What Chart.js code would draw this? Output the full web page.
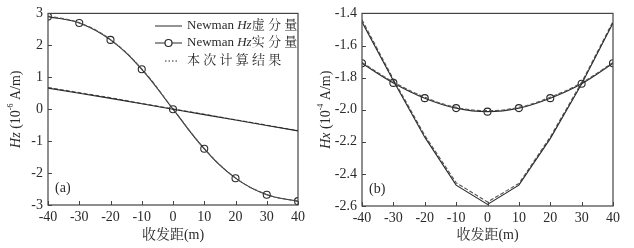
<!DOCTYPE html>
<html>
<head>
<meta charset="utf-8">
<script src="https://cdn.jsdelivr.net/npm/chart.js@4"></script>
<style>
  html, body { margin: 0; padding: 0; background: #fff; }
  .panel { position: absolute; top: 0; height: 248px; }
  #panelA { left: 0; width: 317px; }
  #panelB { left: 314px; width: 320px; }
</style>
</head>
<body>
<div class="panel" id="panelA"><canvas id="hzChart"></canvas></div>
<div class="panel" id="panelB"><canvas id="hxChart"></canvas></div>
<script>
// offsets (m)
const offsets = [-40, -30, -20, -10, 0, 10, 20, 30, 40];

// (a) Hz
const hzImag     = [0.66, 0.50, 0.34, 0.17, 0.00, -0.17, -0.34, -0.51, -0.68];
const hzImagCalc = [0.68, 0.52, 0.36, 0.18, 0.01, -0.16, -0.33, -0.50, -0.67];
const hzReal     = [2.90, 2.70, 2.17, 1.25, 0.00, -1.24, -2.16, -2.68, -2.88];
const hzRealCalc = [2.92, 2.71, 2.18, 1.26, 0.01, -1.23, -2.15, -2.67, -2.89];

// (b) Hx
const hxImag     = [-1.454, -1.82, -2.171, -2.47, -2.59, -2.47, -2.18, -1.84, -1.46];
const hxImagCalc = [-1.44, -1.81, -2.16, -2.455, -2.575, -2.46, -2.17, -1.83, -1.45];
const hxReal     = [-1.711, -1.833, -1.928, -1.99, -2.012, -1.99, -1.928, -1.838, -1.711];
const hxRealCalc = [-1.706, -1.827, -1.922, -1.985, -2.006, -1.985, -1.922, -1.832, -1.706];

const serif = '"Liberation Serif", "Times New Roman", "Noto Serif CJK SC", "Noto Sans CJK SC", serif';
const ink = '#2a2a2a';

function pts(ys) {
    return ys.map((y, i) => ({ x: offsets[i], y: y }));
}

// frame + inward ticks
const framePlugin = {
    id: 'frame',
    afterDraw(chart) {
        const { ctx, chartArea: a, scales } = chart;
        ctx.save();
        ctx.strokeStyle = '#444';
        ctx.lineWidth = 1.2;
        ctx.strokeRect(a.left, a.top, a.right - a.left, a.bottom - a.top);
        ctx.lineWidth = 1;
        ctx.beginPath();
        scales.x.ticks.forEach(t => {
            const px = Math.round(scales.x.getPixelForValue(t.value)) + 0.5;
            ctx.moveTo(px, a.bottom);
            ctx.lineTo(px, a.bottom - 4);
        });
        scales.y.ticks.forEach(t => {
            const py = Math.round(scales.y.getPixelForValue(t.value)) + 0.5;
            ctx.moveTo(a.left, py);
            ctx.lineTo(a.left + 4, py);
        });
        ctx.stroke();
        ctx.restore();
    }
};

// draws a run of [text, font, dy] pieces starting at x
function drawRun(ctx, parts, x, y) {
    parts.forEach(p => {
        ctx.font = p[1];
        ctx.fillText(p[0], x, y + (p[2] || 0));
        x += ctx.measureText(p[0]).width;
    });
    return x;
}
function runWidth(ctx, parts) {
    let w = 0;
    parts.forEach(p => { ctx.font = p[1]; w += ctx.measureText(p[0]).width; });
    return w;
}

function textPlugin(opts) {
    return {
        id: 'texts',
        afterDraw(chart) {
            const { ctx, chartArea: a } = chart;
            ctx.save();
            ctx.fillStyle = ink;
            ctx.textBaseline = 'middle';
            ctx.textAlign = 'left';

            // y title, rotated
            const parts = [
                [opts.sym, 'italic 14px ' + serif],
                [' (10', '14px ' + serif],
                [opts.exp, '8px ' + serif, -5],
                [' A/m)', '14px ' + serif]
            ];
            const w = runWidth(ctx, parts);
            ctx.translate(opts.titleX, (a.top + a.bottom) / 2);
            ctx.rotate(-Math.PI / 2);
            drawRun(ctx, parts, -w / 2, 0);
            ctx.setTransform(1, 0, 0, 1, 0, 0);

            // panel tag
            ctx.font = '14px ' + serif;
            ctx.fillText(opts.tag, a.left + 7, a.bottom - 17);

            if (opts.legend) {
                const lx = 155, tx = 187;
                const rows = [26, 43, 61];
                ctx.strokeStyle = ink;
                ctx.lineWidth = 1.2;
                ctx.beginPath();
                ctx.moveTo(lx, rows[0]); ctx.lineTo(lx + 27, rows[0]);
                ctx.moveTo(lx, rows[1]); ctx.lineTo(lx + 27, rows[1]);
                ctx.stroke();
                ctx.beginPath();
                ctx.fillStyle = '#fff';
                ctx.arc(lx + 13.5, rows[1], 3.5, 0, Math.PI * 2);
                ctx.fill();
                ctx.stroke();
                ctx.fillStyle = ink;
                ctx.setLineDash([1.5, 2]);
                ctx.beginPath();
                ctx.moveTo(lx + 10, rows[2]); ctx.lineTo(lx + 23, rows[2]);
                ctx.stroke();
                ctx.setLineDash([]);
                const reg = '13px ' + serif, ita = 'italic 13px ' + serif;
                drawRun(ctx, [['Newman ', reg], ['Hz', ita], ['虚 分 量', reg]], tx, rows[0]);
                drawRun(ctx, [['Newman ', reg], ['Hz', ita], ['实 分 量', reg]], tx, rows[1]);
                drawRun(ctx, [['本 次 计 算 结 果', reg]], tx, rows[2]);
            }
            ctx.restore();
        }
    };
}

function makeOptions(yMin, yMax, yStep, decimals, padRight, xHeight) {
    return {
        responsive: true,
        maintainAspectRatio: false,
        animation: false,
        layout: { padding: { left: 0, right: padRight, top: 12, bottom: 0 } },
        plugins: {
            legend: { display: false },
            tooltip: { enabled: false }
        },
        scales: {
            x: {
                type: 'linear',
                min: -40,
                max: 40,
                grid: { display: false, drawTicks: false },
                border: { display: false },
                ticks: {
                    stepSize: 10,
                    color: ink,
                    padding: 4,
                    maxRotation: 0,
                    font: { family: serif, size: 14 }
                },
                title: {
                    display: true,
                    text: '收发距(m)',
                    color: ink,
                    padding: { top: 0, bottom: 4 },
                    font: { family: serif, size: 14 }
                },
                afterFit: s => { s.height = xHeight; }
            },
            y: {
                min: yMin,
                max: yMax,
                grid: { display: false, drawTicks: false },
                border: { display: false },
                ticks: {
                    stepSize: yStep,
                    color: ink,
                    padding: 5,
                    font: { family: serif, size: 14 },
                    callback: v => v.toFixed(decimals)
                },
                afterFit: s => { s.width = 48; }
            }
        }
    };
}

function line(data, opts) {
    return Object.assign({
        data: pts(data),
        borderColor: ink,
        borderWidth: 1.1,
        pointRadius: 0,
        fill: false,
        tension: 0
    }, opts);
}

function build() {
    new Chart(document.getElementById('hzChart'), {
        type: 'line',
        data: {
            datasets: [
                line(hzImag, { label: 'Newman Hz虚分量' }),
                line(hzImagCalc, { label: '本次计算结果', borderDash: [4, 2], borderColor: '#555' }),
                line(hzRealCalc, { label: '本次计算结果', borderDash: [4, 2], borderColor: '#555', tension: 0.4 }),
                line(hzReal, {
                    label: 'Newman Hz实分量',
                    tension: 0.4,
                    pointRadius: 3.5,
                    pointBackgroundColor: 'rgba(0,0,0,0)',
                    pointBorderColor: ink,
                    pointBorderWidth: 1.1
                })
            ]
        },
        options: makeOptions(-3, 3, 1, 0, 19, 43),
        plugins: [framePlugin, textPlugin({ sym: 'Hz', exp: '-6', titleX: 16, tag: '(a)', legend: true })]
    });

    new Chart(document.getElementById('hxChart'), {
        type: 'line',
        data: {
            datasets: [
                line(hxImag, { label: 'Newman Hx虚分量' }),
                line(hxImagCalc, { label: '本次计算结果', borderDash: [4, 2], borderColor: '#555' }),
                line(hxRealCalc, { label: '本次计算结果', borderDash: [4, 2], borderColor: '#555', tension: 0.4 }),
                line(hxReal, {
                    label: 'Newman Hx实分量',
                    tension: 0.4,
                    pointRadius: 3.5,
                    pointBackgroundColor: 'rgba(0,0,0,0)',
                    pointBorderColor: ink,
                    pointBorderWidth: 1.1
                })
            ]
        },
        options: makeOptions(-2.6, -1.4, 0.2, 1, 21, 42),
        plugins: [framePlugin, textPlugin({ sym: 'Hx', exp: '-4', titleX: 12, tag: '(b)', legend: false })]
    });
}

Promise.all([
    document.fonts.load('14px "Liberation Serif"'),
    document.fonts.load('italic 14px "Liberation Serif"')
]).then(build, build);
</script>
</body>
</html>
